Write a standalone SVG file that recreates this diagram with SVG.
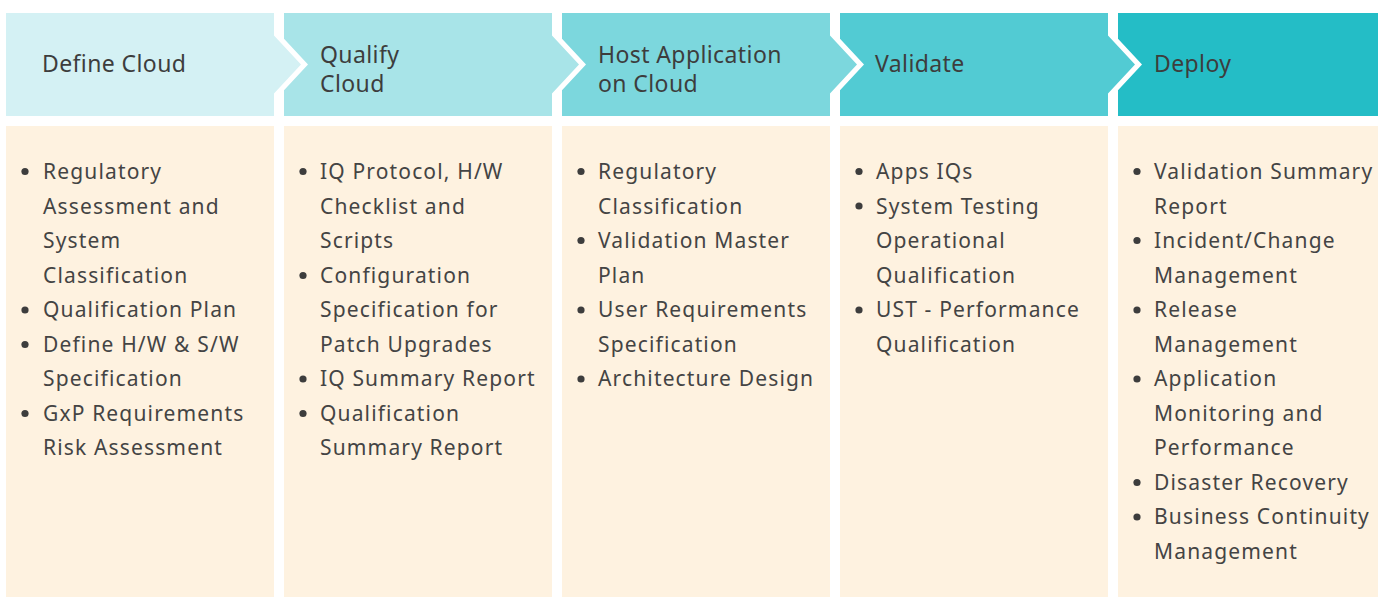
<svg xmlns="http://www.w3.org/2000/svg" width="1378" height="597" viewBox="0 0 1378 597">
  <style>
    .bg { fill: #ffffff; }
    .body { fill: #FEF2E0; }
    .h1 { fill: #D4F1F4; }
    .h2 { fill: #A8E4E8; }
    .h3 { fill: #7CD7DD; }
    .h4 { fill: #52CBD3; }
    .h5 { fill: #24BDC6; }
    .title { font-family: "Noto Sans", "Open Sans", sans-serif; font-size: 23px; fill: #3d3d3d; letter-spacing: 0.4px; }
    .item { font-family: "Noto Sans", "Open Sans", sans-serif; font-size: 21px; fill: #444444; letter-spacing: 1.15px; }
    .dot { fill: #3d3d3d; }
  </style>

  <rect class="bg" x="0" y="0" width="1378" height="597"/>

  <!-- Stage 1: Define Cloud -->
  <g id="stage-define-cloud">
    <polygon class="h1" points="6,13 274,13 274,35.6 301,64.5 274,93.4 274,116 6,116"/>
    <text class="title" x="42" y="72">Define Cloud</text>
    <rect class="body" x="6" y="126" width="268" height="471"/>
    <g class="dot">
      <circle cx="25" cy="171.5" r="3.6"/>
      <circle cx="25" cy="310" r="3.6"/>
      <circle cx="25" cy="344.5" r="3.6"/>
      <circle cx="25" cy="413.5" r="3.6"/>
    </g>
    <text class="item" x="43" y="179">Regulatory</text>
    <text class="item" x="43" y="213.5">Assessment and</text>
    <text class="item" x="43" y="248">System</text>
    <text class="item" x="43" y="282.5">Classification</text>
    <text class="item" x="43" y="317">Qualification Plan</text>
    <text class="item" x="43" y="351.5">Define H/W &amp; S/W</text>
    <text class="item" x="43" y="386">Specification</text>
    <text class="item" x="43" y="420.5">GxP Requirements</text>
    <text class="item" x="43" y="455">Risk Assessment</text>
  </g>

  <!-- Stage 2: Qualify Cloud -->
  <g id="stage-qualify-cloud">
    <polygon class="h2" points="284,13 552,13 552,35.6 579,64.5 552,93.4 552,116 284,116 284,90.2 308,64.5 284,38.8"/>
    <text class="title" x="320" y="63">Qualify</text>
    <text class="title" x="320" y="92">Cloud</text>
    <rect class="body" x="284" y="126" width="268" height="471"/>
    <g class="dot">
      <circle cx="303" cy="171.5" r="3.6"/>
      <circle cx="303" cy="275.5" r="3.6"/>
      <circle cx="303" cy="379" r="3.6"/>
      <circle cx="303" cy="413.5" r="3.6"/>
    </g>
    <text class="item" x="320" y="179">IQ Protocol, H/W</text>
    <text class="item" x="320" y="213.5">Checklist and</text>
    <text class="item" x="320" y="248">Scripts</text>
    <text class="item" x="320" y="282.5">Configuration</text>
    <text class="item" x="320" y="317">Specification for</text>
    <text class="item" x="320" y="351.5">Patch Upgrades</text>
    <text class="item" x="320" y="386">IQ Summary Report</text>
    <text class="item" x="320" y="420.5">Qualification</text>
    <text class="item" x="320" y="455">Summary Report</text>
  </g>

  <!-- Stage 3: Host Application on Cloud -->
  <g id="stage-host-application">
    <polygon class="h3" points="562,13 830,13 830,35.6 857,64.5 830,93.4 830,116 562,116 562,90.2 586,64.5 562,38.8"/>
    <text class="title" x="598" y="63">Host Application</text>
    <text class="title" x="598" y="92">on Cloud</text>
    <rect class="body" x="562" y="126" width="268" height="471"/>
    <g class="dot">
      <circle cx="581" cy="171.5" r="3.6"/>
      <circle cx="581" cy="240.5" r="3.6"/>
      <circle cx="581" cy="310" r="3.6"/>
      <circle cx="581" cy="379" r="3.6"/>
    </g>
    <text class="item" x="598" y="179">Regulatory</text>
    <text class="item" x="598" y="213.5">Classification</text>
    <text class="item" x="598" y="248">Validation Master</text>
    <text class="item" x="598" y="282.5">Plan</text>
    <text class="item" x="598" y="317">User Requirements</text>
    <text class="item" x="598" y="351.5">Specification</text>
    <text class="item" x="598" y="386">Architecture Design</text>
  </g>

  <!-- Stage 4: Validate -->
  <g id="stage-validate">
    <polygon class="h4" points="840,13 1108,13 1108,35.6 1135,64.5 1108,93.4 1108,116 840,116 840,90.2 864,64.5 840,38.8"/>
    <text class="title" x="875" y="72">Validate</text>
    <rect class="body" x="840" y="126" width="268" height="471"/>
    <g class="dot">
      <circle cx="859" cy="171.5" r="3.6"/>
      <circle cx="859" cy="206" r="3.6"/>
      <circle cx="859" cy="310" r="3.6"/>
    </g>
    <text class="item" x="876" y="179">Apps IQs</text>
    <text class="item" x="876" y="213.5">System Testing</text>
    <text class="item" x="876" y="248">Operational</text>
    <text class="item" x="876" y="282.5">Qualification</text>
    <text class="item" x="876" y="317">UST - Performance</text>
    <text class="item" x="876" y="351.5">Qualification</text>
  </g>

  <!-- Stage 5: Deploy -->
  <g id="stage-deploy">
    <polygon class="h5" points="1118,13 1378,13 1378,116 1118,116 1118,90.2 1142,64.5 1118,38.8"/>
    <text class="title" x="1154" y="72">Deploy</text>
    <rect class="body" x="1118" y="126" width="260" height="471"/>
    <g class="dot">
      <circle cx="1137" cy="171.5" r="3.6"/>
      <circle cx="1137" cy="240.5" r="3.6"/>
      <circle cx="1137" cy="310" r="3.6"/>
      <circle cx="1137" cy="379" r="3.6"/>
      <circle cx="1137" cy="482.5" r="3.6"/>
      <circle cx="1137" cy="517" r="3.6"/>
    </g>
    <text class="item" x="1154" y="179">Validation Summary</text>
    <text class="item" x="1154" y="213.5">Report</text>
    <text class="item" x="1154" y="248">Incident/Change</text>
    <text class="item" x="1154" y="282.5">Management</text>
    <text class="item" x="1154" y="317">Release</text>
    <text class="item" x="1154" y="351.5">Management</text>
    <text class="item" x="1154" y="386">Application</text>
    <text class="item" x="1154" y="420.5">Monitoring and</text>
    <text class="item" x="1154" y="455">Performance</text>
    <text class="item" x="1154" y="489.5">Disaster Recovery</text>
    <text class="item" x="1154" y="524">Business Continuity</text>
    <text class="item" x="1154" y="558.5">Management</text>
  </g>
</svg>
